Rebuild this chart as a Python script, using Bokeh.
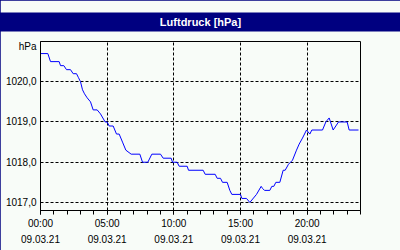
from bokeh.plotting import figure
from bokeh.models import FixedTicker, LinearAxis, Range1d, Grid, Title
from bokeh.embed import file_html
from bokeh.resources import INLINE

# ---- data ----
hours = [0.0, 0.55, 0.75, 1.4, 1.5, 1.75, 1.95, 2.25, 2.45, 2.7, 2.85, 3.0, 3.15, 3.3, 3.5, 3.75,
         3.95, 4.25, 4.5, 4.85, 5.0, 5.15, 5.45, 5.7, 5.9, 6.15, 6.4, 6.8, 7.45, 7.65, 8.05, 8.35,
         9.0, 9.2, 9.8, 9.9, 10.25, 10.4, 11.0, 11.1, 12.2, 12.35, 13.1, 13.25, 13.5, 13.65, 14.0,
         14.2, 14.35, 15.0, 15.1, 15.45, 15.7, 16.2, 16.55, 16.65, 16.8, 17.2, 17.35, 17.5, 17.65,
         17.95, 18.2, 18.35, 18.6, 18.9, 19.2, 19.4, 19.65, 19.95, 20.2, 20.35, 21.15, 21.4, 21.65,
         21.95, 22.35, 23.0, 23.15, 23.85]
hpa = [1020.7, 1020.7, 1020.5, 1020.5, 1020.4, 1020.4, 1020.3, 1020.3, 1020.2, 1020.2, 1020.1, 1020.0,
       1019.8, 1019.7, 1019.6, 1019.5, 1019.3, 1019.3, 1019.2, 1019.0, 1019.0, 1018.9, 1018.9, 1018.7,
       1018.7, 1018.5, 1018.3, 1018.2, 1018.2, 1018.0, 1018.0, 1018.2, 1018.2, 1018.1, 1018.1, 1018.0,
       1018.0, 1017.9, 1017.9, 1017.8, 1017.8, 1017.7, 1017.7, 1017.6, 1017.6, 1017.5, 1017.5, 1017.3,
       1017.2, 1017.2, 1017.1, 1017.1, 1017.0, 1017.2, 1017.4, 1017.35, 1017.3, 1017.3, 1017.4, 1017.4,
       1017.5, 1017.5, 1017.8, 1017.8, 1017.95, 1018.05, 1018.3, 1018.45, 1018.6, 1018.8, 1018.7,
       1018.8, 1018.8, 1019.0, 1019.1, 1018.8, 1019.0, 1019.0, 1018.8, 1018.8]
x_ticks = [0, 5, 10, 15, 20]
x_minor_ticks = list(range(0, 25))
x_time_labels = ["00:00", "05:00", "10:00", "15:00", "20:00"]
x_date_labels = ["09.03.21", "09.03.21", "09.03.21", "09.03.21", "09.03.21"]
y_ticks = [1017, 1018, 1019, 1020]
y_tick_labels = ["1017,0", "1018,0", "1019,0", "1020,0"]
unit_pos = 1020.88
unit_text = "hPa"
title_text = "Luftdruck [hPa]"

BG = "#f8fcf8"
NAVY = "#000080"
FONT = "Liberation Sans"
FS = "10px"

p = figure(width=400, height=250, output_backend="svg", toolbar_location=None, title=None,
           x_range=Range1d(0, 24), y_range=Range1d(1016.8, 1021.0),
           x_axis_location=None, y_axis_location=None,
           min_border_left=40, min_border_right=40, min_border_top=40, min_border_bottom=40)
p.background_fill_color = BG
p.border_fill_color = BG
p.outline_line_color = "black"
p.outline_line_width = 1
p.grid.visible = False
p.styles = {"outline": "2px solid " + NAVY, "outline-offset": "-2px"}

p.add_layout(Title(text=title_text, align="center", text_color="white",
                   text_font=FONT, text_font_size="11px", text_font_style="bold",
                   background_fill_color=NAVY, border_line_color=None,
                   padding={"left": 180, "right": 180, "top": 3, "bottom": 4},
                   standoff=20), "above")

yaxis_labels = {float(t): l for t, l in zip(y_ticks, y_tick_labels)}
yaxis_labels[unit_pos] = unit_text
yaxis = LinearAxis(ticker=FixedTicker(ticks=y_ticks + [unit_pos]),
                   major_label_overrides=yaxis_labels,
                   major_tick_out=0, major_tick_in=0, minor_tick_out=0, minor_tick_in=0,
                   axis_line_color="black", major_label_standoff=4,
                   major_label_text_font=FONT, major_label_text_font_size=FS,
                   major_label_text_color="black")
p.add_layout(yaxis, "left")

xaxis1 = LinearAxis(ticker=FixedTicker(ticks=x_ticks, minor_ticks=x_minor_ticks),
                    major_label_overrides={float(t): l for t, l in zip(x_ticks, x_time_labels)},
                    major_tick_out=4, major_tick_in=0, minor_tick_out=4, minor_tick_in=0,
                    axis_line_color="black", major_tick_line_color="black",
                    minor_tick_line_color="black", major_label_standoff=3,
                    major_label_text_font=FONT, major_label_text_font_size=FS,
                    major_label_text_color="black")
p.add_layout(xaxis1, "below")

xaxis2 = LinearAxis(ticker=FixedTicker(ticks=x_ticks),
                    major_label_overrides={float(t): l for t, l in zip(x_ticks, x_date_labels)},
                    major_tick_out=0, major_tick_in=0, minor_tick_out=0, minor_tick_in=0,
                    axis_line_color=None, major_tick_line_color=None, minor_tick_line_color=None,
                    major_label_standoff=3,
                    major_label_text_font=FONT, major_label_text_font_size=FS,
                    major_label_text_color="black")
p.add_layout(xaxis2, "below")

p.add_layout(Grid(dimension=0, ticker=FixedTicker(ticks=x_ticks[1:]),
                  grid_line_color="black", grid_line_dash="3 2", grid_line_width=1))
p.add_layout(Grid(dimension=1, ticker=FixedTicker(ticks=y_ticks),
                  grid_line_color="black", grid_line_dash="3 2", grid_line_width=1))

p.line(hours, hpa, line_color="#0000ff", line_width=1)

open("out.html", "w").write(file_html(p, INLINE))
